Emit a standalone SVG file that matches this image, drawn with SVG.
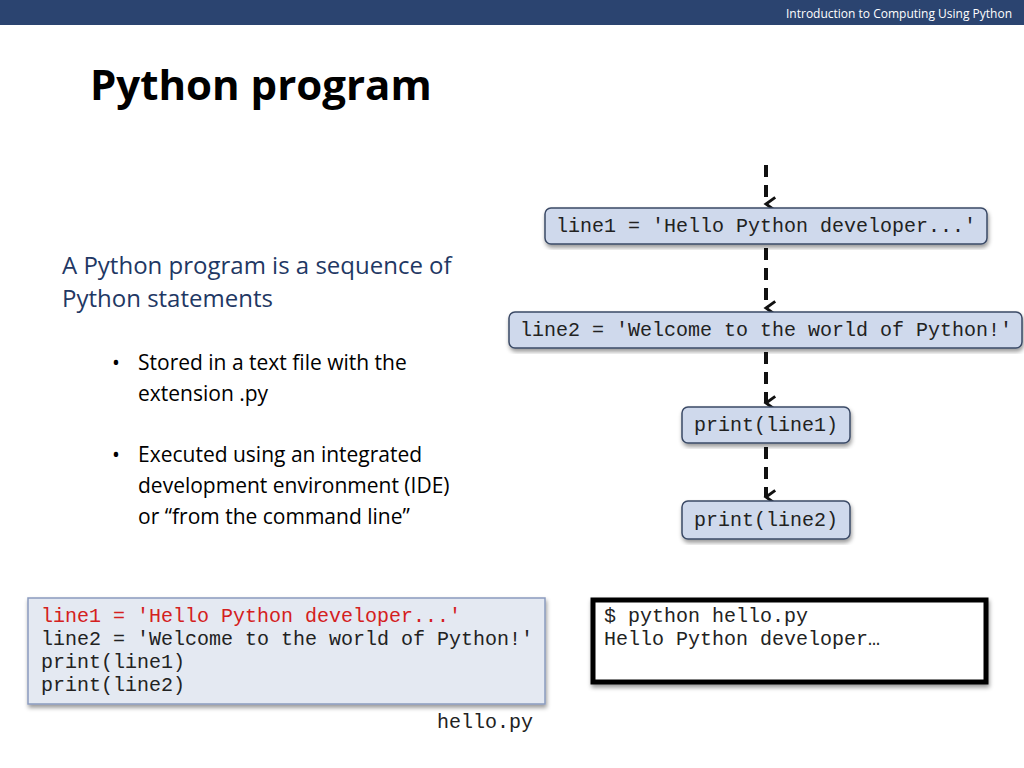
<svg xmlns="http://www.w3.org/2000/svg" width="1024" height="768" viewBox="0 0 1024 768">
<defs>
<style>
.mono{font-family:"Liberation Mono","DejaVu Sans Mono",monospace;font-size:20px;fill:#222}
.sans{font-family:"Open Sans","Liberation Sans",sans-serif}
.node{fill:#CFD9EC;stroke:#3A4A66;stroke-width:1.5}
.edge{stroke:#111;stroke-width:4;stroke-dasharray:12,8;fill:none}
</style>
<marker id="ah" viewBox="0 0 12 10" refX="6" refY="8" markerWidth="4" markerHeight="3.3" markerUnits="strokeWidth" orient="auto-start-reverse">
<path d="M1,1 L6,8 L11,1" fill="none" stroke="#111" stroke-width="2.2"/>
</marker>
<filter id="sh" x="-5%" y="-5%" width="110%" height="120%"><feDropShadow dx="1" dy="3" stdDeviation="2" flood-opacity="0.4"/></filter>
</defs>
<rect width="1024" height="768" fill="#fff"/>
<rect width="1024" height="25" fill="#2B4470"/>
<text x="1012" y="18" text-anchor="end" class="sans" font-size="12" fill="#fff">Introduction to Computing Using Python</text>
<text x="90" y="100" class="sans" font-size="42" font-weight="bold" fill="#000">Python program</text>
<g class="sans" fill="#1F3864" font-size="24">
<text x="62" y="274">A Python program is a sequence of</text>
<text x="62" y="307">Python statements</text>
</g>
<g class="sans" fill="#000" font-size="21">
<text x="112" y="370">•</text><text x="138" y="370">Stored in a text file with the</text>
<text x="138" y="401">extension .py</text>
<text x="112" y="462">•</text><text x="138" y="462">Executed using an integrated</text>
<text x="138" y="493">development environment (IDE)</text>
<text x="138" y="524">or “from the command line”</text>
</g>
<g id="connectors">
<line class="edge" x1="766" y1="165" x2="766" y2="204" marker-end="url(#ah)"/>
<line class="edge" x1="766" y1="248" x2="766" y2="308" marker-end="url(#ah)"/>
<line class="edge" x1="766" y1="352" x2="766" y2="403" marker-end="url(#ah)"/>
<line class="edge" x1="766" y1="447" x2="766" y2="497" marker-end="url(#ah)"/>
</g>
<g id="n1"><rect class="node" x="545" y="208" width="442" height="36" rx="6" filter="url(#sh)"/><text class="mono" x="766" y="232" text-anchor="middle">line1 = 'Hello Python developer...'</text></g>
<g id="n2"><rect class="node" x="509" y="312" width="513" height="36" rx="6" filter="url(#sh)"/><text class="mono" x="766" y="336" text-anchor="middle">line2 = 'Welcome to the world of Python!'</text></g>
<g id="n3"><rect class="node" x="682" y="407" width="168" height="36" rx="6" filter="url(#sh)"/><text class="mono" x="766" y="431" text-anchor="middle">print(line1)</text></g>
<g id="n4"><rect class="node" x="682" y="501" width="168" height="38" rx="6" filter="url(#sh)"/><text class="mono" x="766" y="526" text-anchor="middle">print(line2)</text></g>
<g id="code">
<rect x="28" y="598" width="517" height="106" fill="#E4E9F2" stroke="#8A9BBE" stroke-width="1.5" filter="url(#sh)"/>
<text class="mono" x="41" y="622" fill="#D42020" style="fill:#D42020">line1 = 'Hello Python developer...'</text>
<text class="mono" x="41" y="645">line2 = 'Welcome to the world of Python!'</text>
<text class="mono" x="41" y="668">print(line1)</text>
<text class="mono" x="41" y="691">print(line2)</text>
<text class="mono" x="533" y="728" text-anchor="end">hello.py</text>
</g>
<g id="terminal">
<rect x="593" y="600" width="393" height="82" fill="#fff" stroke="#000" stroke-width="5" filter="url(#sh)"/>
<text class="mono" x="604" y="622">$ python hello.py</text>
<text class="mono" x="604" y="645">Hello Python developer…</text>
</g>
</svg>
